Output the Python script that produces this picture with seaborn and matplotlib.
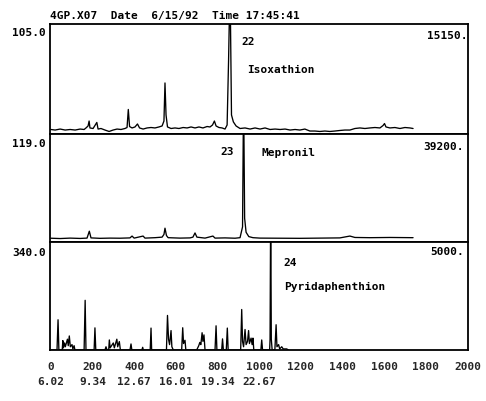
import numpy as np
import pandas as pd
import matplotlib
matplotlib.use("Agg")
import matplotlib.pyplot as plt
from matplotlib.ticker import MultipleLocator, FixedLocator, FixedFormatter
import seaborn as sns

# ---------------- data (scan number, % of full scale) ----------------
top_scan = [0, 21, 45, 69, 93, 117, 141, 160, 169, 179, 184, 188, 203, 221, 227, 241, 260, 280,
            299, 318, 337, 356, 366, 372, 378, 390, 404, 416, 426, 443, 462, 481, 500, 519, 534,
            543, 548, 553, 560, 577, 596, 615, 635, 654, 673, 692, 711, 730, 750, 764, 776, 785,
            793, 807, 822, 836, 846, 853, 860, 867, 876, 889, 908, 932, 956, 980, 1004, 1028,
            1052, 1076, 1100, 1124, 1148, 1172, 1195, 1219, 1243, 1267, 1291, 1315, 1339, 1363,
            1387, 1411, 1435, 1459, 1483, 1507, 1531, 1555, 1579, 1594, 1601, 1608, 1627, 1651,
            1675, 1699, 1723, 1738]
top_val = [4.1, 3.6, 4.5, 3.6, 4.1, 3.6, 4.5, 4.1, 5.5, 7.3, 11.8, 5.5, 5.0, 10.5, 4.5, 5.0, 3.6,
           2.3, 3.6, 4.5, 4.1, 5.0, 5.9, 22.3, 6.8, 5.5, 6.4, 9.1, 5.5, 4.5, 5.5, 5.9, 5.5, 6.4,
           7.3, 11.8, 46.4, 17.3, 6.4, 5.0, 5.5, 5.0, 5.9, 5.5, 6.4, 5.5, 6.4, 5.5, 6.8, 6.4, 8.2,
           11.8, 7.3, 5.9, 5.5, 4.5, 8.2, 67.0, 140.0, 17.3, 11.0, 7.3, 5.0, 5.5, 4.5, 5.5, 4.5,
           5.5, 4.1, 4.5, 4.1, 4.5, 3.6, 4.1, 3.6, 4.5, 2.7, 2.7, 2.3, 2.7, 2.3, 2.7, 3.2, 3.6,
           3.6, 5.0, 5.5, 5.0, 5.5, 5.9, 5.5, 7.7, 9.5, 6.4, 5.5, 5.9, 5.0, 5.9, 5.5, 5.0]

mid_scan = [0, 45, 93, 141, 174, 185, 193, 236, 284, 332, 380, 390, 400, 443, 452, 500, 534, 543,
            548, 555, 563, 620, 668, 682, 692, 701, 740, 778, 788, 836, 884, 908, 920, 925, 930,
            937, 950, 970, 1004, 1100, 1195, 1291, 1387, 1435, 1459, 1531, 1627, 1738]
mid_val = [3.5, 3.2, 3.6, 3.3, 3.6, 10.0, 3.8, 3.4, 3.6, 3.5, 3.8, 5.5, 3.6, 5.5, 3.6, 4.0, 4.5,
           7.0, 12.8, 6.0, 4.0, 3.6, 3.8, 4.5, 8.4, 4.5, 3.6, 5.5, 3.6, 3.8, 3.5, 4.0, 14.0,
           140.0, 22.0, 9.0, 5.0, 4.0, 3.6, 3.5, 3.4, 3.6, 3.8, 5.5, 4.2, 4.0, 4.2, 4.0]

bot_scan = [0, 30, 35, 39, 55, 58, 61, 66, 70, 80, 84, 89, 94, 102, 106, 112, 116, 160, 165, 169,
            208, 212, 216, 260, 265, 270, 278, 281, 285, 300, 305, 317, 321, 329, 334, 380, 385,
            389, 437, 441, 444, 477, 481, 484, 555, 560, 565, 570, 577, 581, 588, 628, 633, 637,
            644, 648, 700, 710, 715, 720, 726, 730, 735, 740, 788, 793, 797, 820, 824, 828, 842,
            847, 851, 911, 916, 920, 925, 932, 937, 944, 949, 953, 961, 966, 970, 974, 1008, 1012,
            1016, 1050, 1052, 1055, 1058, 1062, 1075, 1081, 1085, 1093, 1098, 1108, 1115, 1132,
            1140]
bot_val = [0, 0, 28, 0, 0, 8.7, 2, 6.5, 3, 10, 4, 13, 3, 5, 1, 4, 0, 0, 46, 0,
           0, 20.5, 0, 0, 3, 0, 0, 9.3, 2, 6.5, 2, 10, 3, 7.8, 0, 0, 5.6,
           0, 0, 2.5, 0, 0, 20.3, 0, 0, 32, 10, 5, 18, 3, 0, 0, 20.6, 6,
           9, 0, 0, 4, 7, 5, 16, 8, 14, 0, 0, 22.4, 0, 0, 10.3, 0, 0,
           20.3, 0, 0, 37.5, 8, 3, 19, 5, 8, 18, 6, 11, 5, 11, 0, 0, 9.3,
           0, 0, 10, 140, 10, 0, 0, 23.4, 3, 5, 1, 3, 1, 1,
           0]

header = "4GP.X07  Date  6/15/92  Time 17:45:41"
ion_labels = ["105.0", "119.0", "340.0"]
scale_labels = ["15150.", "39200.", "5000."]
peak_nums = ["22", "23", "24"]
compounds = ["Isoxathion", "Mepronil", "Pyridaphenthion"]
tick_scans = [0, 200, 400, 600, 800, 1000, 1200, 1400, 1600, 1800, 2000]
tick_times = ["6.02", "9.34", "12.67", "16.01", "19.34", "22.67"]

# ---------------- figure ----------------
sns.set_style("white")
plt.rcParams['font.family'] = ['DejaVu Sans Mono', 'DejaVu Sans']
plt.rcParams['font.weight'] = 'bold'

W, H = 486, 401
fig = plt.figure(figsize=(W / 100, H / 100), dpi=100)

def fx(x):
    return x / W

def fy(y):
    return 1 - y / H

left, right = 49.5, 468
panels = [(24, 134), (134, 242), (242, 350)]
axes = []
for (t, b) in panels:
    ax = fig.add_axes([fx(left), fy(b), (right - left) / W, (b - t) / H])
    axes.append(ax)

series = [(top_scan, top_val), (mid_scan, mid_val), (bot_scan, bot_val)]
for ax, (sx, sv) in zip(axes, series):
    df = pd.DataFrame({"scan": sx, "val": sv})
    sns.lineplot(data=df, x="scan", y="val", ax=ax, color="black", linewidth=0.95,
                 estimator=None, sort=False)
    ax.set_xlim(-6, 2001.5)
    ax.set_ylim(0, 100)
    ax.set_xlabel("")
    ax.set_ylabel("")
    ax.set_yticks([])
    for sp in ax.spines.values():
        sp.set_visible(True)
        sp.set_color("black")
        sp.set_linewidth(1.3)
    ax.set_facecolor("white")

for ax in axes[:2]:
    ax.set_xticks([])
    ax.tick_params(axis="x", which="both", bottom=False, labelbottom=False)

axb = axes[2]
labels = []
for i, s in enumerate(tick_scans):
    if i < len(tick_times):
        labels.append(f"{s}\n{tick_times[i]}")
    else:
        labels.append(f"{s}")
axb.xaxis.set_major_locator(FixedLocator(tick_scans))
axb.xaxis.set_major_formatter(FixedFormatter(labels))
axb.xaxis.set_minor_locator(MultipleLocator(20))
axb.tick_params(axis="x", which="major", direction="out", length=5, width=1.1,
                color="black", pad=3.5, labelsize=8)
axb.tick_params(axis="x", which="minor", direction="out", length=3, width=1.0,
                color="black")
for lab in axb.get_xticklabels():
    lab.set_linespacing(1.7)
    lab.set_fontweight("bold")

tk = dict(fontsize=8, fontweight="bold", color="black")
fig.text(fx(50), fy(16.5), header, ha="left", va="center", **tk)

ion_pos = [(46, 32.5), (46, 143.5), (46, 253)]
for lab, (x, y) in zip(ion_labels, ion_pos):
    fig.text(fx(x), fy(y), lab, ha="right", va="center", **tk)

scale_pos = [(467, 36), (464, 147), (464, 252)]
for lab, (x, y) in zip(scale_labels, scale_pos):
    fig.text(fx(x), fy(y), lab, ha="right", va="center", **tk)

num_pos = [(241, 42), (220, 152), (283, 263)]
for lab, (x, y) in zip(peak_nums, num_pos):
    fig.text(fx(x), fy(y), lab, ha="left", va="center", **tk)

name_pos = [(247, 70), (262, 153), (284, 287)]
for lab, (x, y) in zip(compounds, name_pos):
    fig.text(fx(x), fy(y), lab, ha="left", va="center", **tk)

fig.savefig("out.png", dpi=100, facecolor="white")
